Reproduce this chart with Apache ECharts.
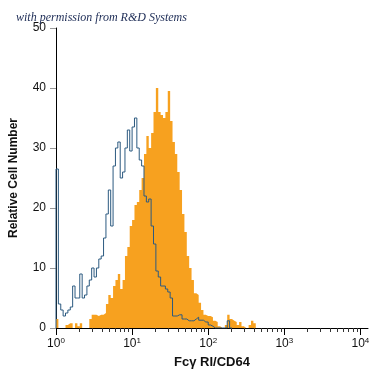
<!DOCTYPE html>
<html>
<head>
<meta charset="utf-8">
<script src="https://cdn.jsdelivr.net/npm/echarts@6/dist/echarts.min.js"></script>
<style>html,body{margin:0;padding:0;background:#fff}#c{width:375px;height:375px}</style>
</head>
<body>
<div id="c"></div>
<script>
// histogram channels: 32 bins per decade, starting at 10^0
const binsPerDecade = 32;
const isotypeCounts = [26.5,4,3,2,2.5,3,3.5,7,5,5,9,5,5.5,7,8,10,8.5,10,11.5,12,15,19,23,17,27,30,31,25,26,30,33,29.5,33.5,35,30,28,27,22,21,21.5,17,14,9.5,8.5,7,7,6.5,6,5,2,2,2.2,2.2,1.5,1.5,1.2,1.2,1.2,1.5,1.8,1.3,1.3,1,1,0.5,0.3,0,0,0,0,0,0,1.2,0];
const cd64Counts = [1.5,0,0,0,0.5,0.8,0.8,0,0.8,0.3,0.8,0,0,0,1.5,2.2,2.2,2,2.2,2.2,2.5,4,5.5,5,7,8,9,6.5,8,12,13.5,17,18,20.5,21,23,25,29,32,30,32.5,36,40,36,35.5,35,36,39.5,34.5,31,29,26,23,19,16,12,10,8,5.8,5.5,4.2,3,2.2,2,2,1.8,1.2,1,0.3,0,0,0.5,2.2,1.5,1.2,1,0.5,1,0.3,0,0,0.5,1.2,0.8,0];
const decadeTicks = [0,1,2,3,4];
const minorTickValues = [2,3,4,5,6,7,8,9,20,30,40,50,60,70,80,90,200,300,400,500,600,700,800,900,2000,3000,4000,5000,6000,7000,8000,9000];
const yTicks = [0,10,20,30,40,50];

const FONT = "'Liberation Sans',Arial,sans-serif";

function toSteps(arr){
  const pts = [[0,0]];
  arr.forEach((v,i)=>pts.push([i/binsPerDecade, v]));
  pts.push([arr.length/binsPerDecade, 0]);
  return pts;
}

const chart = echarts.init(document.getElementById('c'));
chart.setOption({
  animation: false,
  backgroundColor: '#fff',
  title: {
    text: 'with permission from R&D Systems',
    left: 11, top: 7,
    textStyle: {fontFamily: "'Liberation Serif','DejaVu Serif',serif", fontStyle: 'italic', fontWeight: 'normal', fontSize: 12, color: '#1c2b55'}
  },
  grid: {left: 56, right: 7, top: 28, bottom: 47},
  xAxis: [{
    type: 'value', min: 0, max: 4.1,
    name: 'Fcγ RI/CD64', nameLocation: 'middle', nameGap: 28,
    nameTextStyle: {fontFamily: FONT, fontWeight: 'bold', fontSize: 13, color: '#111'},
    axisLine: {lineStyle: {color: '#000', width: 1}},
    axisTick: {customValues: decadeTicks, length: 7, lineStyle: {color: '#000'}},
    axisLabel: {
      customValues: decadeTicks, margin: 9,
      formatter: v => '{b|10}{s|' + v + '}',
      rich: {
        b: {fontFamily: FONT, fontSize: 12, color: '#111'},
        s: {fontFamily: FONT, fontSize: 8, color: '#111', verticalAlign: 'bottom', padding: [0,0,6,0]}
      }
    },
    splitLine: {show: false}
  },{
    type: 'value', min: 0, max: 4.1, position: 'bottom', offset: 0,
    axisLine: {show: false},
    axisTick: {customValues: minorTickValues.map(Math.log10), length: 4, lineStyle: {color: '#333'}},
    axisLabel: {show: false},
    splitLine: {show: false}
  }],
  yAxis: {
    type: 'value', min: 0, max: 50, interval: 10,
    name: 'Relative Cell Number', nameLocation: 'middle', nameGap: 36,
    nameTextStyle: {fontFamily: FONT, fontWeight: 'bold', fontSize: 12, color: '#111'},
    axisLine: {show: true, lineStyle: {color: '#000', width: 1}},
    axisTick: {show: true, length: 6, lineStyle: {color: '#999'}},
    axisLabel: {margin: 10, fontFamily: FONT, fontSize: 12, color: '#111', customValues: yTicks},
    splitLine: {show: false}
  },
  series: [{
    type: 'line', step: 'end', data: toSteps(cd64Counts), symbol: 'none',
    lineStyle: {width: 0}, areaStyle: {color: '#f7a11f', opacity: 1}, z: 1
  },{
    type: 'line', step: 'end', data: toSteps(isotypeCounts), symbol: 'none',
    lineStyle: {width: 1, color: '#2c5a80'}, z: 2
  }]
});
</script>
</body>
</html>
